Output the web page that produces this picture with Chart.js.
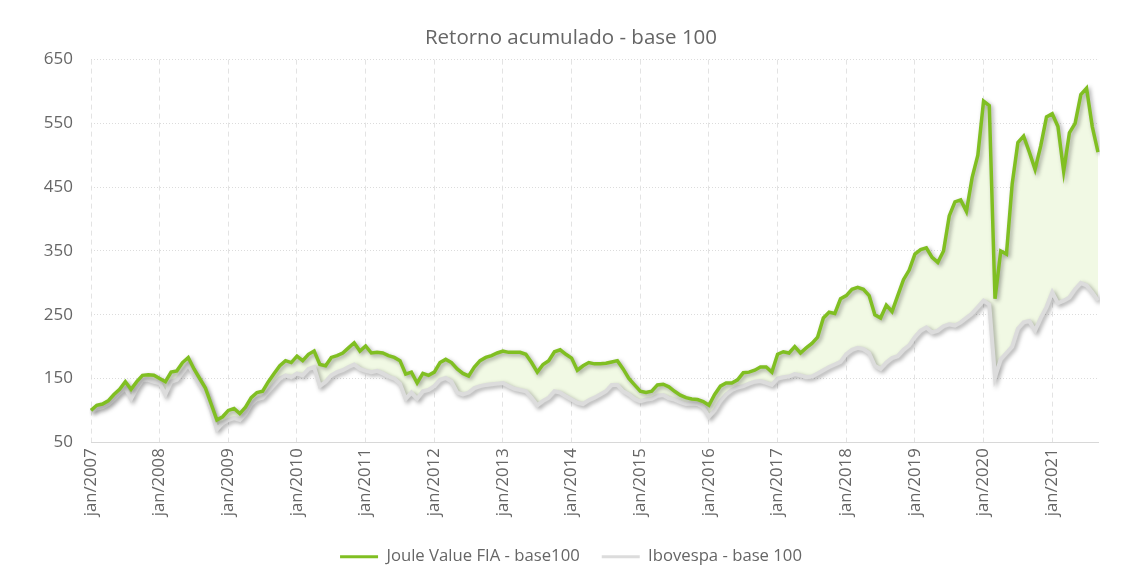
<!DOCTYPE html>
<html>
<head>
<meta charset="utf-8">
<script src="https://cdn.jsdelivr.net/npm/chart.js@4.4.0/dist/chart.umd.min.js"></script>
<style>
  html, body { margin: 0; padding: 0; background: #fff; }
  .chart-wrapper { width: 1127px; height: 583px; }
</style>
</head>
<body>
<div class="chart-wrapper"><canvas id="chart"></canvas></div>
<script>
// Month names used for the category labels
const monthNames = ["jan", "fev", "mar", "abr", "mai", "jun", "jul", "ago", "set", "out", "nov", "dez"];
const firstYear = 2007;
const monthCount = 177; // jan/2007 .. set/2021

// Monthly values (base 100)
const joule = [
  100, 108, 110, 115, 125, 133, 145, 133, 145, 155, 156, 155,
  150, 145, 160, 162, 175, 183, 165, 150, 135, 110, 85, 90,
  100, 103, 95, 105, 120, 128, 130, 145, 158, 170, 178, 175,
  185, 178, 188, 193, 172, 170, 183, 186, 190, 198, 206, 193,
  201, 190, 191, 190, 186, 183, 178, 157, 160, 143, 158, 155,
  160, 175, 180, 175, 165, 158, 154, 168, 178, 183, 186, 190,
  193, 191, 191, 191, 188, 175, 160, 172, 178, 192, 195, 188,
  182, 163, 170, 175, 173, 173, 174, 176, 178, 165, 150, 140,
  130, 128, 130, 140, 141, 137, 130, 124, 120, 118, 117, 114,
  108, 125, 138, 143, 143, 148, 159, 160, 163, 168, 168, 160,
  188, 192, 190, 200, 190, 198, 205, 215, 245, 254, 252, 275,
  280, 290, 293, 290, 280, 250, 245, 265, 255, 280, 305, 320,
  345, 352, 355, 340, 332, 350, 405, 427, 430, 412, 465, 500,
  585, 578, 275, 350, 345, 455, 520, 530, 505, 478, 515, 560,
  565, 545, 475, 535, 550, 595, 605, 545, 505
];

const ibovespa = [
  98, 103, 105, 110, 118, 127, 135, 118, 135, 148, 148, 145,
  143, 125, 145, 148, 160, 172, 155, 140, 125, 100, 70, 80,
  85, 88, 85, 95, 110, 118, 120, 130, 140, 150, 155, 152,
  158, 155, 165, 168, 138, 145, 155, 160, 163, 168, 172, 165,
  162, 160, 162, 158, 153, 150, 142, 118, 128, 118, 130, 132,
  138, 148, 151, 145, 128, 125, 128, 135, 138, 140, 141, 142,
  143, 138, 134, 132, 130, 120, 108, 115, 120, 130, 128, 122,
  117, 112, 110, 116, 120, 125, 130, 140, 140, 130, 125, 118,
  114, 117, 118, 123, 124, 119, 117, 113, 110, 111, 110, 105,
  90, 100, 115, 125, 132, 136, 138, 142, 145, 146, 143, 140,
  150, 152, 153, 157, 155, 152, 153, 158, 163, 168, 172, 176,
  188, 195, 198, 196, 190, 170, 165, 175, 182, 185, 195, 202,
  215, 225, 230, 222, 225, 232, 235, 233, 238, 245, 252, 262,
  272, 266, 152, 180, 190, 200, 228, 238, 240, 225, 245, 262,
  285, 268, 272, 277, 290, 300, 296, 285, 272
];

const yTicks = [50, 150, 250, 350, 450, 550, 650];

const labels = [];
for (let i = 0; i < monthCount; i++) {
  labels.push(monthNames[i % 12] + "/" + (firstYear + Math.floor(i / 12)));
}

// Drop shadow under the lines
const lineShadow = {
  id: "lineShadow",
  beforeDatasetDraw(chart) {
    const ctx = chart.ctx;
    ctx.save();
    ctx.shadowColor = "rgba(0, 0, 0, 0.35)";
    ctx.shadowBlur = 4;
    ctx.shadowOffsetX = 2;
    ctx.shadowOffsetY = 2;
  },
  afterDatasetDraw(chart) {
    chart.ctx.restore();
  }
};

const font = "'Open Sans', sans-serif";
const ctx = document.getElementById("chart").getContext("2d");

new Chart(ctx, {
  type: "line",
  data: {
    labels: labels,
    datasets: [
      {
        label: "Joule Value FIA - base100",
        data: joule,
        borderColor: "#80bf22",
        backgroundColor: "#f1f9e4",
        borderWidth: 3.5,
        fill: "+1",
        pointRadius: 0,
        tension: 0
      },
      {
        label: "Ibovespa - base 100",
        data: ibovespa,
        borderColor: "#dcdcdc",
        backgroundColor: "#dcdcdc",
        borderWidth: 4,
        fill: false,
        pointRadius: 0,
        tension: 0
      }
    ]
  },
  options: {
    responsive: true,
    maintainAspectRatio: false,
    animation: false,
    layout: { padding: { left: 44, right: 29, top: 26, bottom: 8 } },
    scales: {
      x: {
        offset: false,
        afterFit: (scale) => { scale.height += 4; },
        grid: {
          drawTicks: false,
          color: (c) => (c.index % 12 === 0 ? "#e3e3e3" : "rgba(0,0,0,0)"),
          lineWidth: 1
        },
        border: { display: true, color: "#d8d8d8", width: 1, dash: [5, 4] },
        ticks: {
          autoSkip: false,
          minRotation: 90,
          maxRotation: 90,
          padding: 6,
          color: "#666",
          font: { family: font, size: 16.7 },
          callback: function (val, i) {
            return i % 12 === 0 ? this.getLabelForValue(val) : "";
          }
        }
      },
      y: {
        min: 50,
        max: 650,
        afterFit: (scale) => { scale.width = 47; },
        afterBuildTicks: (scale) => {
          scale.ticks = yTicks.map((v) => ({ value: v }));
        },
        grid: { drawTicks: false, color: "#dcdcdc", lineWidth: 1 },
        border: { display: false, dash: [1, 2] },
        ticks: {
          padding: 18,
          color: "#666",
          font: { family: font, size: 17 }
        }
      }
    },
    plugins: {
      filler: { drawTime: "beforeDatasetsDraw" },
      title: {
        display: true,
        text: "Retorno acumulado - base 100",
        color: "#666",
        font: { family: font, size: 20.5, weight: "normal" },
        padding: { top: 0, bottom: 9 }
      },
      legend: {
        position: "bottom",
        labels: {
          color: "#666",
          boxWidth: 38,
          boxHeight: 3,
          padding: 22,
          font: { family: font, size: 16.7 },
          generateLabels: function (chart) {
            return Chart.defaults.plugins.legend.labels.generateLabels(chart).map((item) => {
              item.fillStyle = item.strokeStyle;
              item.lineWidth = 0;
              return item;
            });
          }
        }
      },
      tooltip: { enabled: false }
    }
  },
  plugins: [lineShadow]
});
</script>
</body>
</html>
